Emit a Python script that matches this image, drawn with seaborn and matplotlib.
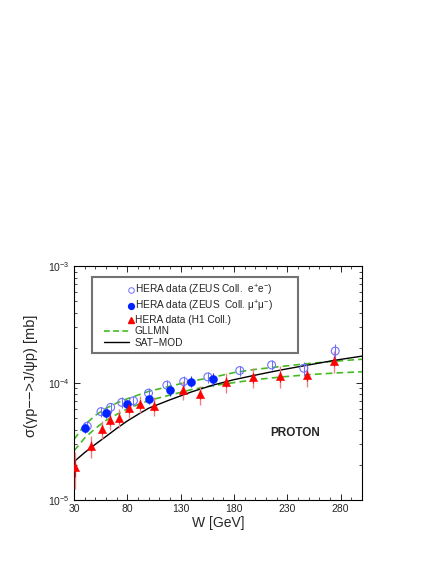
import numpy as np
import pandas as pd
import matplotlib
matplotlib.use("Agg")
import matplotlib.pyplot as plt
import seaborn as sns
from matplotlib.lines import Line2D
from matplotlib.legend_handler import HandlerBase
from matplotlib.ticker import FixedLocator, MultipleLocator, LogLocator, NullFormatter

# ---------------- data ----------------
h1_w = [31, 45.5, 55.8, 63.7, 72.2, 81.6, 91.4, 105.2, 132, 148, 172.8, 198, 223, 248.3, 273.4]
h1_sig = [1.9e-5, 2.9e-5, 4.05e-5, 4.85e-5, 5.05e-5, 6.1e-5, 6.6e-5, 6.4e-5, 8.8e-5, 8.0e-5,
          1.02e-4, 1.12e-4, 1.15e-4, 1.17e-4, 1.55e-4]
h1_err = [0.65e-5, 0.6e-5, 0.7e-5, 0.9e-5, 0.9e-5, 1.1e-5, 1.1e-5, 1.2e-5, 1.7e-5, 1.5e-5,
          2.0e-5, 2.2e-5, 2.4e-5, 2.4e-5, 3.2e-5]

zmu_w = [40, 60, 80, 100, 120.3, 140, 160]
zmu_sig = [4.12e-5, 5.5e-5, 6.6e-5, 7.3e-5, 8.67e-5, 1.03e-4, 1.08e-4]
zmu_err = [0.4e-5, 0.5e-5, 0.6e-5, 0.7e-5, 0.9e-5, 1.1e-5, 1.3e-5]

zee_w = [42.3, 55.2, 64.3, 74.7, 85.7, 99.8, 117, 132.8, 155.5, 185.4, 215.3, 245.5, 275]
zee_sig = [4.28e-5, 5.7e-5, 6.2e-5, 6.84e-5, 7.06e-5, 8.2e-5, 9.6e-5, 1.03e-4, 1.13e-4,
           1.28e-4, 1.43e-4, 1.34e-4, 1.88e-4]
zee_err = [0.5e-5, 0.6e-5, 0.6e-5, 0.7e-5, 0.7e-5, 0.8e-5, 1.0e-5, 1.1e-5, 1.2e-5,
           1.3e-5, 1.4e-5, 1.8e-5, 2.8e-5]

curve_w = [30, 40, 50, 60, 70, 80, 90, 100, 120, 140, 160, 180, 200, 225, 250, 275, 300]
sat_mod = [2.13e-5, 2.55e-5, 3.0e-5, 3.5e-5, 4.1e-5, 4.75e-5, 5.4e-5, 6.1e-5, 7.2e-5, 8.4e-5,
           9.6e-5, 1.07e-4, 1.17e-4, 1.3e-4, 1.43e-4, 1.57e-4, 1.7e-4]
gllmn_up = [3.3e-5, 4.4e-5, 5.3e-5, 6.1e-5, 6.75e-5, 7.35e-5, 7.9e-5, 8.5e-5, 9.4e-5, 1.04e-4,
            1.12e-4, 1.23e-4, 1.31e-4, 1.39e-4, 1.47e-4, 1.54e-4, 1.6e-4]
gllmn_lo = [2.64e-5, 3.4e-5, 4.1e-5, 4.8e-5, 5.4e-5, 6.0e-5, 6.55e-5, 7.1e-5, 7.9e-5, 8.8e-5,
            9.5e-5, 1.01e-4, 1.07e-4, 1.13e-4, 1.18e-4, 1.22e-4, 1.25e-4]

x_ticks = [30, 80, 130, 180, 230, 280]

# ---------------- style ----------------
sns.set_theme(style="ticks")
plt.rcParams["font.family"] = ["Liberation Sans", "DejaVu Sans"]
plt.rcParams["mathtext.fontset"] = "custom"
plt.rcParams["mathtext.rm"] = "Liberation Sans"
plt.rcParams["mathtext.it"] = "Liberation Sans:italic"

fig = plt.figure(figsize=(4.36, 5.64), dpi=100)
ax = fig.add_axes([0.170, 0.1135, 0.660, 0.4145])

curves = pd.DataFrame({"W": curve_w, "sat": sat_mod, "up": gllmn_up, "lo": gllmn_lo})

ee_blue = "#6f6fff"
green = "#44bb22"
sns.lineplot(data=curves, x="W", y="up", ax=ax, color=green, lw=1.2, zorder=2)
ax.lines[-1].set_dashes((4, 2.5))
sns.lineplot(data=curves, x="W", y="lo", ax=ax, color=green, lw=1.2, zorder=2)
ax.lines[-1].set_dashes((4, 2.5))
sns.lineplot(data=curves, x="W", y="sat", ax=ax, color="black", lw=1.0, zorder=3)

# error bars
ax.errorbar(h1_w, h1_sig, yerr=h1_err, fmt="none", ecolor="#f08080", elinewidth=1.0, zorder=3)
ax.errorbar(h1_w, h1_sig, yerr=[e * 0.5 for e in h1_err], fmt="none", ecolor="#ee1111",
            elinewidth=0.8, zorder=3)
ax.errorbar(zmu_w, zmu_sig, yerr=zmu_err, fmt="none", ecolor="#2233ff", elinewidth=0.8, zorder=3)
ax.errorbar(zee_w, zee_sig, yerr=zee_err, fmt="none", ecolor=ee_blue, elinewidth=0.8, zorder=3)

h1_df = pd.DataFrame({"W": h1_w, "s": h1_sig})
zmu_df = pd.DataFrame({"W": zmu_w, "s": zmu_sig})
zee_df = pd.DataFrame({"W": zee_w, "s": zee_sig})
sns.scatterplot(data=zee_df, x="W", y="s", ax=ax, marker="o", s=32, facecolor="none",
                edgecolor=ee_blue, linewidth=0.8, zorder=4)
sns.scatterplot(data=zmu_df, x="W", y="s", ax=ax, marker="o", s=34, color="#0022ff",
                edgecolor="#0022ff", linewidth=0.3, zorder=5)
sns.scatterplot(data=h1_df, x="W", y="s", ax=ax, marker="^", s=36, color="#ff0000",
                edgecolor="#ff0000", linewidth=0.3, zorder=5)

ax.set_yscale("log")
ax.set_xlim(30, 300)
ax.set_ylim(1e-5, 1e-3)
ax.xaxis.set_major_locator(FixedLocator(x_ticks))
ax.xaxis.set_minor_locator(MultipleLocator(10))
ax.yaxis.set_major_locator(LogLocator(base=10))
ax.yaxis.set_minor_locator(LogLocator(base=10, subs=np.arange(2, 10)))
ax.yaxis.set_minor_formatter(NullFormatter())
ax.tick_params(which="both", direction="in", top=True, right=True, color="black")
ax.tick_params(which="major", length=4.5, width=0.6, labelsize=7.5, pad=3)
ax.tick_params(which="minor", length=2.5, width=0.5)
for sp in ax.spines.values():
    sp.set_linewidth(0.8)
    sp.set_color("black")

ax.set_xlabel("W [GeV]", fontsize=10, labelpad=1)
ax.set_ylabel("σ(γp−−>J/ψp) [mb]", fontsize=10.5, labelpad=3)
ax.yaxis.set_label_coords(-0.125, 0.53)

ax.text(0.68, 0.286, "PROTON", transform=ax.transAxes, fontsize=8.5, fontweight="bold",
        ha="left", va="center")


class RightMarkerHandler(HandlerBase):
    def create_artists(self, legend, orig_handle, xdescent, ydescent, width, height,
                       fontsize, trans):
        x0 = -xdescent
        y = (height - ydescent) / 2
        line = Line2D([x0 + 0.22 * width, x0 + 0.9 * width], [y, y])
        self.update_prop(line, orig_handle, legend)
        line.set_marker("")
        mark = Line2D([x0 + 0.96 * width], [y])
        self.update_prop(mark, orig_handle, legend)
        mark.set_linestyle("none")
        line.set_transform(trans)
        mark.set_transform(trans)
        return [line, mark]


handles = [
    Line2D([], [], marker="o", ls="none", markerfacecolor="none", markeredgecolor=ee_blue,
           markersize=4, markeredgewidth=0.7),
    Line2D([], [], marker="o", ls="none", color="#0022ff", markersize=4.2),
    Line2D([], [], marker="^", ls="none", color="#ff0000", markersize=4.2),
    Line2D([], [], color=green, lw=1.2, dashes=(3.5, 2)),
    Line2D([], [], color="black", lw=1.0),
]
labels = [
    r"HERA data (ZEUS Coll.  e$^{+}$e$^{-}$)",
    r"HERA data (ZEUS  Coll. μ$^{+}$μ$^{-}$)",
    "HERA data (H1 Coll.)",
    "GLLMN",
    "SAT−MOD",
]
leg = ax.legend(handles, labels, loc="upper left",
                bbox_to_anchor=(0.0605, 0.953, 0.717, 0.0), mode="expand",
                fontsize=7.3, frameon=True, fancybox=False, edgecolor="#505050",
                handlelength=3.5, handletextpad=0.27, borderpad=0.5, labelspacing=0.12,
                borderaxespad=0, handler_map={Line2D: RightMarkerHandler()})
leg.get_frame().set_linewidth(1.5)
leg.get_frame().set_facecolor("white")

fig.savefig("out.png", dpi=100)
